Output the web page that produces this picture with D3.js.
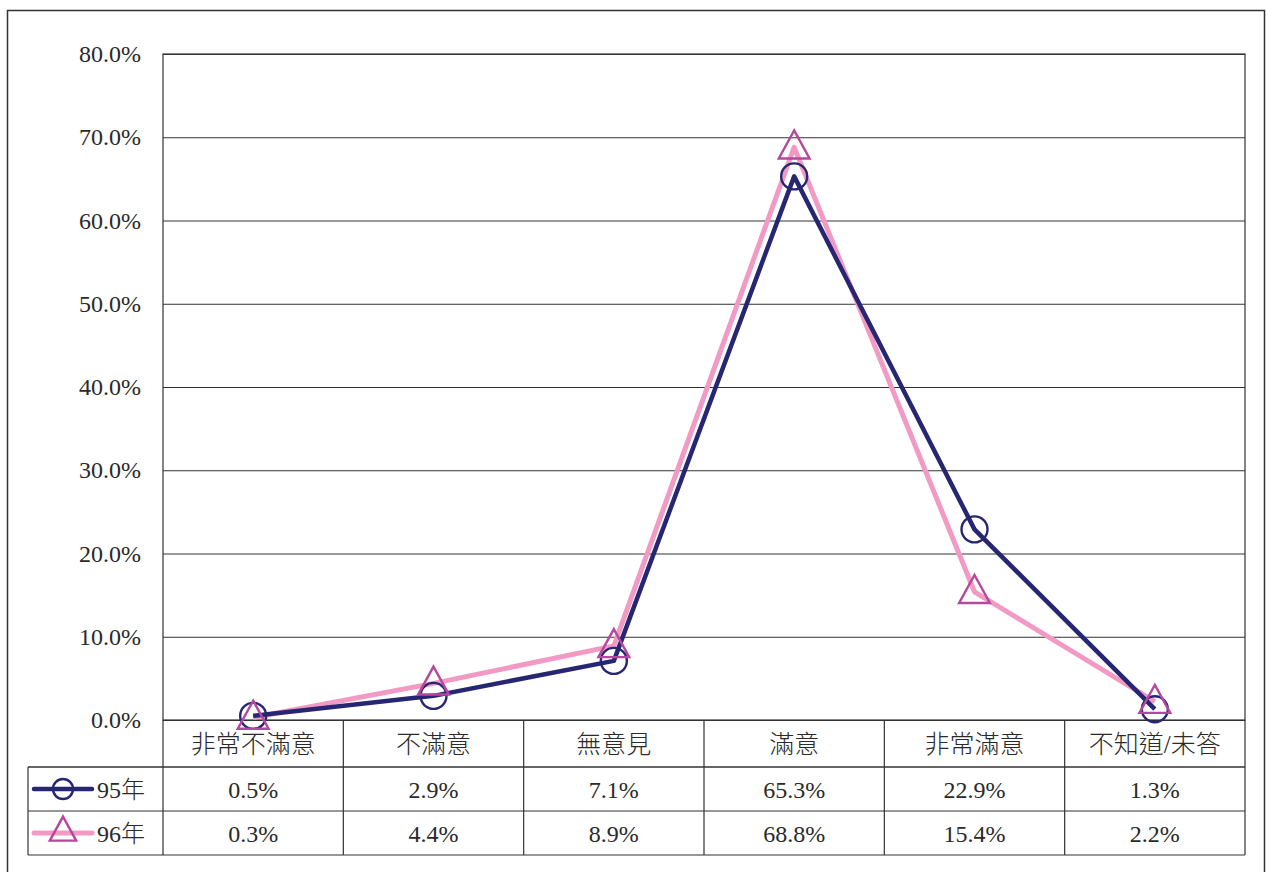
<!DOCTYPE html>
<html>
<head>
<meta charset="utf-8">
<script src="https://cdn.jsdelivr.net/npm/d3@7"></script>
<style>
  body { margin: 0; background: #fff; }
  text { font-family: "Liberation Serif", "Noto Sans CJK TC", serif; fill: #2a2a2a; font-weight: 300; }
</style>
</head>
<body>
<svg id="chart" width="1266" height="872"></svg>
<script>
const categories = ['非常不滿意', '不滿意', '無意見', '滿意', '非常滿意', '不知道/未答'];
const seriesNames = ['95年', '96年'];
const values95 = [0.5, 2.9, 7.1, 65.3, 22.9, 1.3];
const values96 = [0.3, 4.4, 8.9, 68.8, 15.4, 2.2];
const yTicks = [0, 10, 20, 30, 40, 50, 60, 70, 80];

const Navy = '#262673';
const Pink = '#f29ac3';
const TriangleStroke = '#b5479e';

const svg = d3.select('#chart');
const plot = { left: 163, right: 1245, top: 54, bottom: 720 };
const tableLeft = 28;
const rowBottoms = [767, 811, 855];

const x = d3.scaleBand()
  .domain(categories)
  .range([plot.left, plot.right]);
const y = d3.scaleLinear()
  .domain([0, 80])
  .range([plot.bottom, plot.top]);

// outer frame
svg.append('rect')
  .attr('x', 7.5).attr('y', 10.5)
  .attr('width', 1257).attr('height', 880)
  .attr('fill', 'none')
  .attr('stroke', '#333')
  .attr('stroke-width', 1.5);

// gridlines + y labels
const yAxis = d3.axisLeft(y)
  .tickValues(yTicks)
  .tickSize(-(plot.right - plot.left))
  .tickFormat(d => d.toFixed(1) + '%');
const ya = svg.append('g')
  .attr('transform', `translate(${plot.left},0)`)
  .call(yAxis);
ya.select('.domain').remove();
ya.selectAll('.tick line').attr('stroke', '#333').attr('stroke-width', 1);
ya.selectAll('.tick text')
  .attr('x', -22)
  .attr('font-size', 24)
  .style('font-family', '"Liberation Serif", serif')
  .attr('fill', '#2a2a2a');

// plot frame
svg.append('rect')
  .attr('x', plot.left).attr('y', plot.top)
  .attr('width', plot.right - plot.left).attr('height', plot.bottom - plot.top)
  .attr('fill', 'none')
  .attr('stroke', '#333')
  .attr('stroke-width', 1.2);

// data table lines
const table = svg.append('g').attr('stroke', '#333').attr('stroke-width', 1.2);
rowBottoms.forEach((ry, i) => {
  table.append('line')
    .attr('x1', tableLeft).attr('x2', plot.right)
    .attr('y1', ry).attr('y2', ry)
    .attr('stroke', i === 0 ? '#666' : '#333')
    .attr('stroke-width', i === 0 ? 2 : 1.2);
});
table.append('line')
  .attr('x1', tableLeft).attr('x2', tableLeft)
  .attr('y1', rowBottoms[0]).attr('y2', rowBottoms[2]);
categories.forEach(c => {
  const vx = x(c) + x.bandwidth();
  table.append('line')
    .attr('x1', vx).attr('x2', vx)
    .attr('y1', plot.bottom).attr('y2', rowBottoms[2]);
});
table.append('line')
  .attr('x1', plot.left).attr('x2', plot.left)
  .attr('y1', plot.bottom).attr('y2', rowBottoms[2]);

// category labels
svg.append('g').selectAll('text')
  .data(categories)
  .join('text')
  .attr('x', d => x(d) + x.bandwidth() / 2)
  .attr('y', (plot.bottom + rowBottoms[0]) / 2 + 9)
  .attr('text-anchor', 'middle')
  .attr('font-size', 25)
  .text(d => d);

// value rows
[values95, values96].forEach((vals, r) => {
  const rowMid = (rowBottoms[r] + rowBottoms[r + 1]) / 2;
  svg.append('g').selectAll('text')
    .data(vals)
    .join('text')
    .attr('x', (d, i) => x(categories[i]) + x.bandwidth() / 2)
    .attr('y', rowMid + 9)
    .attr('text-anchor', 'middle')
    .attr('font-size', 24)
    .text(d => d.toFixed(1) + '%');
});

// lines
const cx = i => x(categories[i]) + x.bandwidth() / 2;
const line = d3.line().x((d, i) => cx(i)).y(d => y(d));

svg.append('path')
  .datum(values96)
  .attr('d', line)
  .attr('fill', 'none')
  .attr('stroke', Pink)
  .attr('stroke-width', 5)
  .attr('stroke-linejoin', 'round');
svg.append('path')
  .datum(values95)
  .attr('d', line)
  .attr('fill', 'none')
  .attr('stroke', Navy)
  .attr('stroke-width', 4.5)
  .attr('stroke-linejoin', 'round');

const triPath = s => `M0,${-s * 0.6}L${s * 0.55},${s * 0.4}L${-s * 0.55},${s * 0.4}Z`;

svg.append('g').selectAll('circle')
  .data(values95)
  .join('circle')
  .attr('cx', (d, i) => cx(i))
  .attr('cy', d => y(d))
  .attr('r', 13)
  .attr('fill', 'none')
  .attr('stroke', Navy)
  .attr('stroke-width', 2.4);

svg.append('g').selectAll('path')
  .data(values96)
  .join('path')
  .attr('transform', (d, i) => `translate(${cx(i)},${y(d)})`)
  .attr('d', triPath(28))
  .attr('fill', 'none')
  .attr('stroke', TriangleStroke)
  .attr('stroke-width', 2.4);

// legend keys in table
seriesNames.forEach((name, r) => {
  const rowMid = (rowBottoms[r] + rowBottoms[r + 1]) / 2;
  const g = svg.append('g').attr('transform', `translate(0,${rowMid})`);
  g.append('line')
    .attr('x1', 34).attr('x2', 92)
    .attr('stroke', r === 0 ? Navy : Pink)
    .attr('stroke-width', r === 0 ? 4.5 : 5)
    .attr('stroke-linecap', 'round');
  if (r === 0) {
    g.append('circle')
      .attr('cx', 63).attr('r', 10)
      .attr('fill', 'none').attr('stroke', Navy).attr('stroke-width', 2.4);
  } else {
    g.append('path')
      .attr('transform', 'translate(63,-2)')
      .attr('d', triPath(24))
      .attr('fill', 'none').attr('stroke', TriangleStroke).attr('stroke-width', 2.4);
  }
  g.append('text')
    .attr('x', 97).attr('y', 9)
    .attr('font-size', 24)
    .text(name);
});
</script>
</body>
</html>
